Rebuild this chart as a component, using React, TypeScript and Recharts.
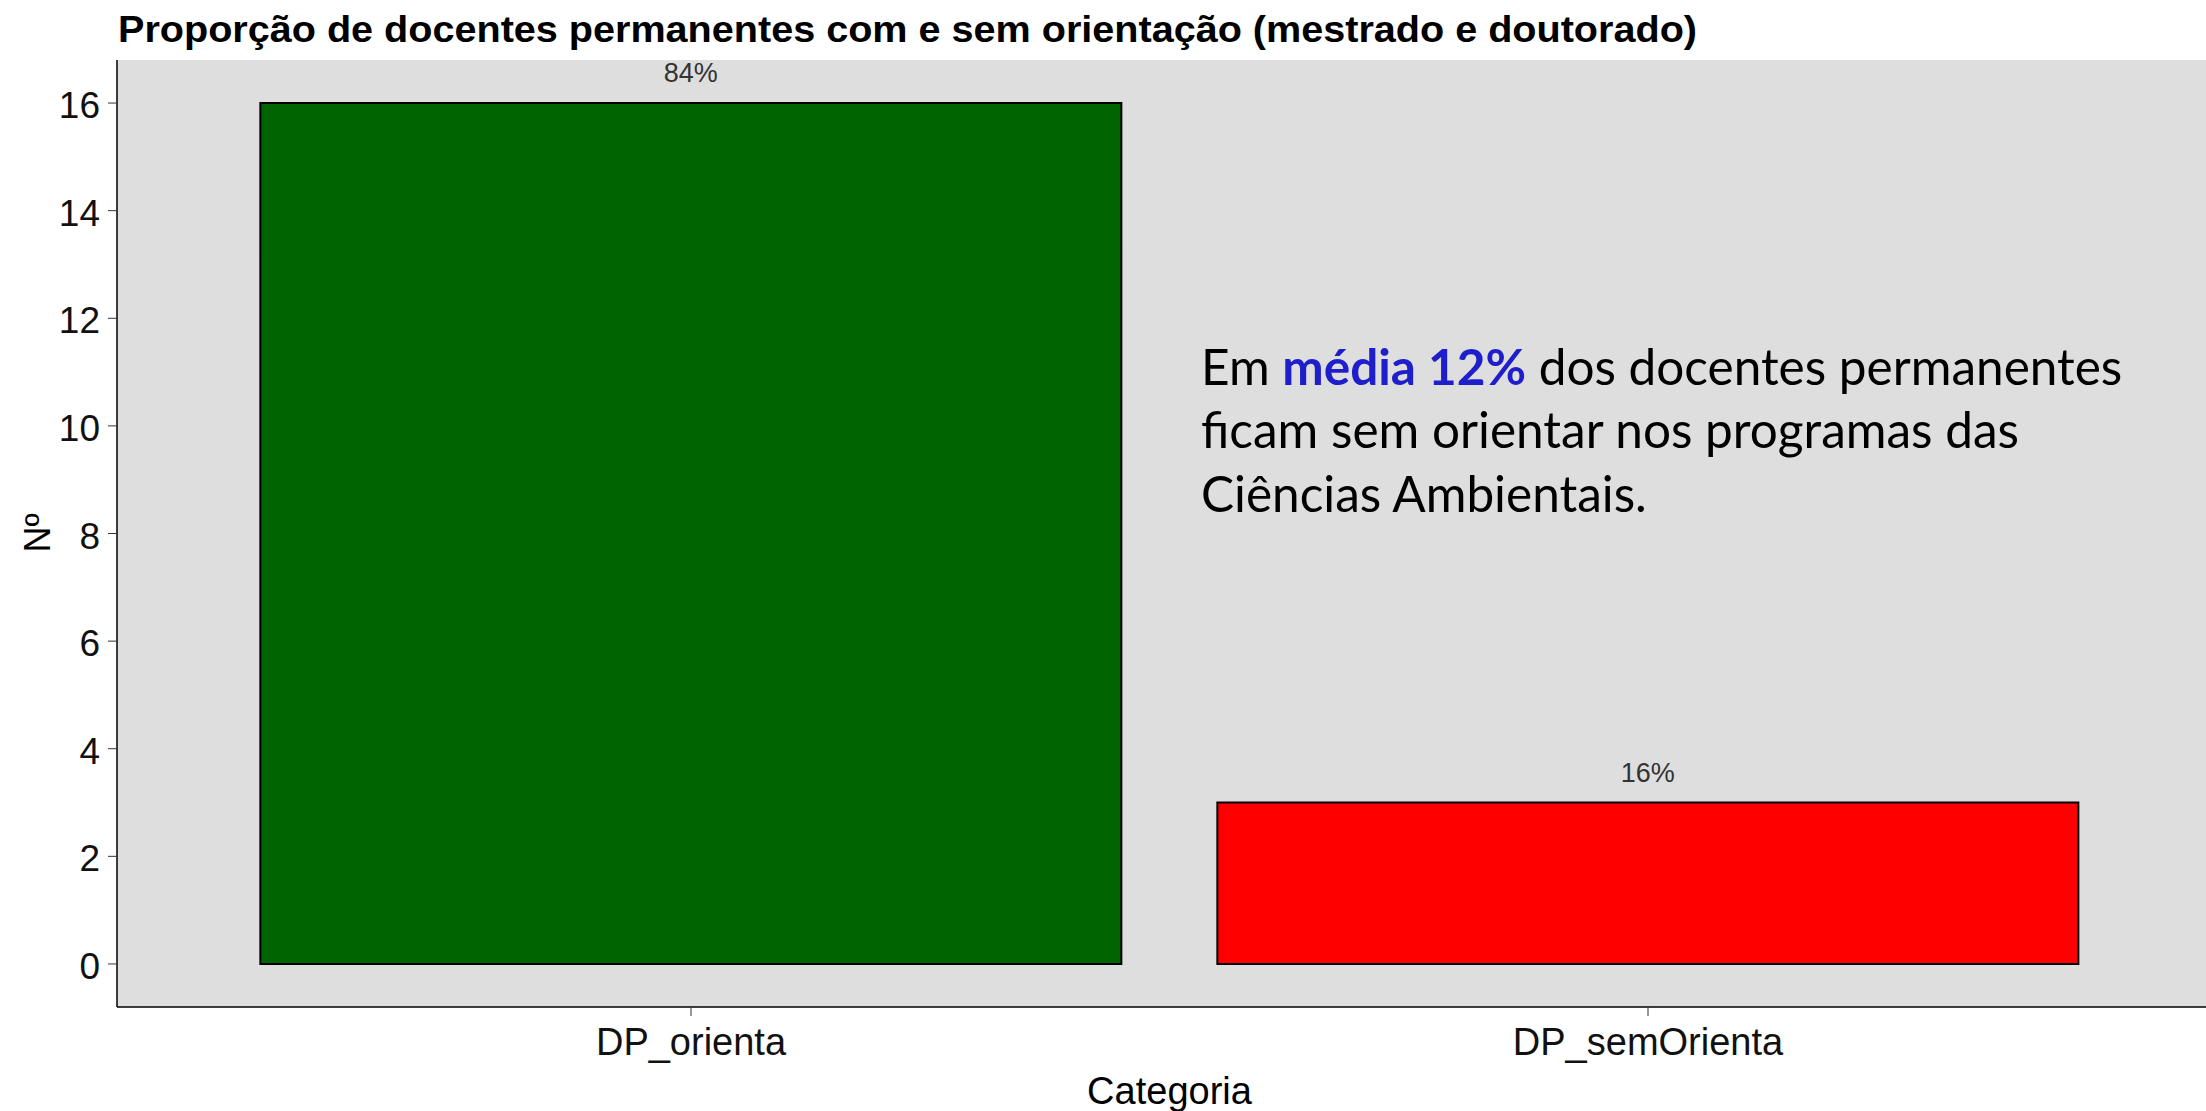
import React from 'react';
import {
  BarChart,
  Bar,
  Cell,
  XAxis,
  YAxis,
  CartesianGrid,
  LabelList,
} from 'recharts';

const categorias = ['DP_orienta', 'DP_semOrienta'];
const docentes = [16, 3];
const barColors = ['#006400', '#FF0000'];
const yTicks = [0, 2, 4, 6, 8, 10, 12, 14, 16];

const total = docentes.reduce((a, b) => a + b, 0);
const data = categorias.map((categoria, i) => ({
  categoria,
  n: docentes[i],
  pct: `${Math.round((docentes[i] / total) * 100)}%`,
}));

const AXIS_FONT = '"Liberation Sans", Arial, sans-serif';

function PctLabel(props: any) {
  const { x, y, width, value } = props;
  return (
    <text
      x={x + width / 2}
      y={y - 21}
      textAnchor="middle"
      fontFamily={AXIS_FONT}
      fontSize={27}
      fill="#333"
    >
      {value}
    </text>
  );
}

export default function App() {
  return (
    <div
      style={{
        position: 'absolute',
        left: 0,
        top: 0,
        width: 2206,
        height: 1111,
        overflow: 'hidden',
        background: '#fff',
      }}
    >
      <BarChart
        width={2230}
        height={1111}
        data={data}
        margin={{ top: 60, right: 8, bottom: 0, left: 0 }}
        barCategoryGap="5%"
      >
        <CartesianGrid fill="#DEDEDE" stroke="none" horizontal={false} vertical={false} />
        <XAxis
          dataKey="categoria"
          type="category"
          padding={{ left: 95.5, right: 95.5 }}
          height={104}
          tickSize={9}
          tickMargin={12}
          axisLine={{ stroke: '#000', strokeWidth: 1.5 }}
          tickLine={{ stroke: '#333', strokeWidth: 1 }}
          tick={{ fontSize: 38, fill: '#111', fontFamily: AXIS_FONT }}
          label={{
            content: (p: any) => {
              const vb = p.viewBox;
              return (
                <text
                  x={vb.x + vb.width / 2}
                  y={1104}
                  textAnchor="middle"
                  fontFamily={AXIS_FONT}
                  fontSize={38}
                  fill="#000"
                >
                  Categoria
                </text>
              );
            },
          }}
        />
        <YAxis
          type="number"
          domain={[-0.8, 16.8]}
          allowDataOverflow
          ticks={yTicks}
          width={117}
          tickSize={9}
          tickMargin={8}
          axisLine={{ stroke: '#000', strokeWidth: 1.5 }}
          tickLine={{ stroke: '#333', strokeWidth: 1 }}
          tick={{ fontSize: 37, fill: '#111', fontFamily: AXIS_FONT, dy: 2 }}
          label={{
            content: () => (
              <text
                x={37}
                y={533}
                transform="rotate(-90 37 533)"
                textAnchor="middle"
                dominantBaseline="central"
                fontFamily={AXIS_FONT}
                fontSize={36}
                fill="#000"
              >
                Nº
              </text>
            ),
          }}
        />
        <Bar dataKey="n" stroke="#000" strokeWidth={2} isAnimationActive={false}>
          {data.map((d, i) => (
            <Cell key={d.categoria} fill={barColors[i]} />
          ))}
          <LabelList dataKey="pct" content={PctLabel} />
        </Bar>
      </BarChart>

      <svg
        width={2206}
        height={1111}
        style={{ position: 'absolute', left: 0, top: 0, pointerEvents: 'none' }}
      >
        <text
          x={118}
          y={42}
          fontFamily={AXIS_FONT}
          fontWeight="bold"
          fontSize={36}
          fill="#000"
          textLength={1579}
          lengthAdjust="spacingAndGlyphs"
        >
          Proporção de docentes permanentes com e sem orientação (mestrado e doutorado)
        </text>
        <text x={1201} fontFamily="Lato, 'Open Sans', sans-serif" fontSize={49.5} fill="#000">
          <tspan x={1201} y={385}>
            Em <tspan fill="#1E1ECB" fontWeight="bold">média 12%</tspan> dos docentes permanentes
          </tspan>
          <tspan x={1201} y={448}>ficam sem orientar nos programas das</tspan>
          <tspan x={1201} y={512}>Ciências Ambientais.</tspan>
        </text>
      </svg>
    </div>
  );
}
